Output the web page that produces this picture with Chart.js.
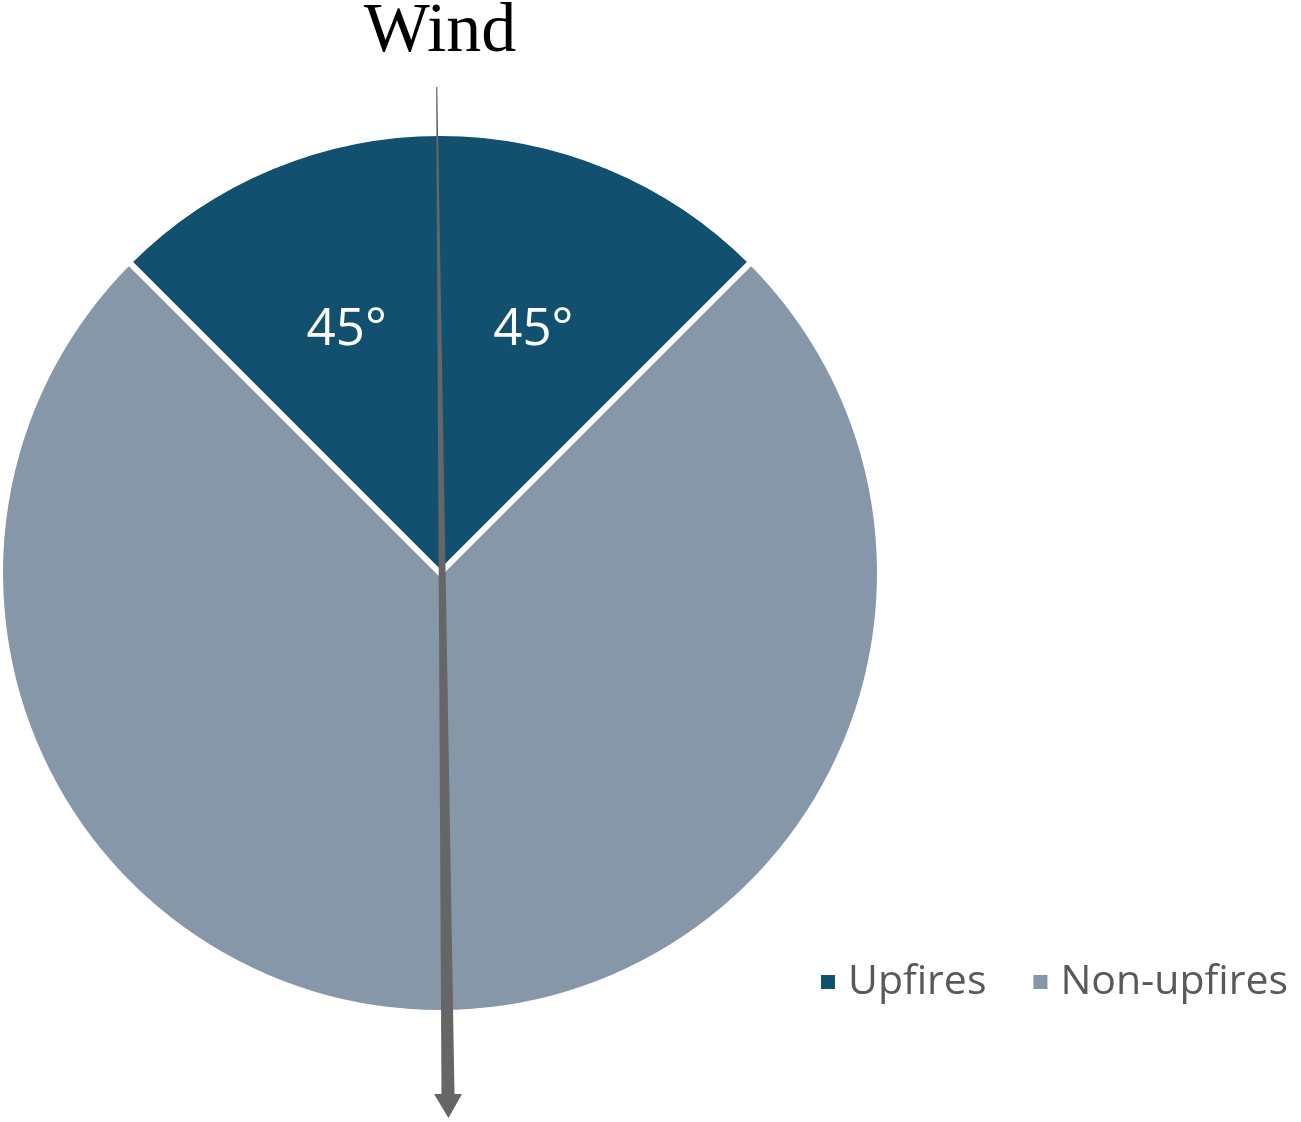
<!DOCTYPE html>
<html>
<head>
<meta charset="utf-8">
<script src="https://cdn.jsdelivr.net/npm/chart.js@4.4.1/dist/chart.umd.min.js"></script>
<style>
    html, body { margin: 0; padding: 0; background: #fff; }
    #wrap { width: 1301px; height: 1122px; }
</style>
</head>
<body>
<div id="wrap"><canvas id="windChart" width="1301" height="1122"></canvas></div>
<script>
// Data
const categories = ['Upfires', 'Non-upfires'];
const categoryColors = ['#11506e', '#8597a9'];
const sectorCategories = ['Upfires', 'Upfires', 'Non-upfires', 'Non-upfires'];
const sectorDegrees = [45, 45, 135, 135];
const sectorLabels = ['45°', '45°', '', ''];
const chartTitle = 'Wind';

const sectorColors = sectorCategories.map(c => categoryColors[categories.indexOf(c)]);

// Separators, angle labels and the wind arrow
const windPlugin = {
    id: 'windPlugin',
    afterDatasetsDraw(chart) {
        const ctx = chart.ctx;
        const arcs = chart.getDatasetMeta(0).data;
        if (!arcs.length) return;
        const cx = arcs[0].x;
        const cy = arcs[0].y;
        const R = arcs[0].outerRadius;

        // white line where the category changes
        const bounds = [];
        arcs.forEach((arc, i) => {
            const prev = (i - 1 + arcs.length) % arcs.length;
            if (sectorCategories[i] !== sectorCategories[prev]) bounds.push(arc.startAngle);
        });
        ctx.save();
        ctx.strokeStyle = '#ffffff';
        ctx.lineWidth = 6;
        ctx.lineJoin = 'miter';
        ctx.beginPath();
        if (bounds.length === 2) {
            ctx.moveTo(cx + Math.cos(bounds[0]) * (R + 2), cy + Math.sin(bounds[0]) * (R + 2));
            ctx.lineTo(cx, cy);
            ctx.lineTo(cx + Math.cos(bounds[1]) * (R + 2), cy + Math.sin(bounds[1]) * (R + 2));
        } else {
            bounds.forEach(a => {
                ctx.moveTo(cx, cy);
                ctx.lineTo(cx + Math.cos(a) * (R + 2), cy + Math.sin(a) * (R + 2));
            });
        }
        ctx.stroke();

        // angle labels
        ctx.fillStyle = '#ffffff';
        ctx.font = '51px "Open Sans", sans-serif';
        ctx.textAlign = 'center';
        ctx.textBaseline = 'middle';
        arcs.forEach((arc, i) => {
            if (!sectorLabels[i]) return;
            const mid = (arc.startAngle + arc.endAngle) / 2;
            const r = R * 0.6;
            ctx.fillText(sectorLabels[i], cx + Math.cos(mid) * r * 0.93, cy + Math.sin(mid) * r);
        });

        // wind arrow (tapered shaft)
        const x0 = cx - 3.3, y0 = cy - 486;
        const x1 = cx + 8, y1 = cy + 521;
        const xt = cx + 8.5, yt = cy + 545;
        ctx.fillStyle = '#666666';
        ctx.beginPath();
        ctx.moveTo(x0 - 0.6, y0);
        ctx.lineTo(x0 + 0.6, y0);
        ctx.lineTo(x1 + 6.5, y1);
        ctx.lineTo(x1 + 14, y1);
        ctx.lineTo(xt, yt);
        ctx.lineTo(x1 - 14, y1);
        ctx.lineTo(x1 - 6.5, y1);
        ctx.closePath();
        ctx.fill();
        ctx.restore();
    },
    afterDraw(chart) {
        // legend
        const ctx = chart.ctx;
        ctx.save();
        ctx.font = '41px "Open Sans", sans-serif';
        ctx.textBaseline = 'middle';
        ctx.textAlign = 'left';
        let x = 821;
        const y = 982;
        categories.forEach((c, i) => {
            ctx.fillStyle = categoryColors[i];
            ctx.fillRect(x, y - 7, 14, 14);
            ctx.fillStyle = '#595959';
            ctx.fillText(c, x + 27, y);
            x += 27 + ctx.measureText(c).width + 47;
        });
        ctx.restore();
    }
};

const ctx = document.getElementById('windChart').getContext('2d');
const myChart = new Chart(ctx, {
    type: 'pie',
    data: {
        labels: sectorCategories,
        datasets: [{
            data: sectorDegrees,
            backgroundColor: sectorColors,
            borderWidth: 0
        }]
    },
    options: {
        responsive: false,
        animation: false,
        rotation: -45,
        layout: {
            padding: { top: 0, left: 3, right: 424, bottom: 112 }
        },
        plugins: {
            legend: { display: false },
            tooltip: { enabled: false },
            title: {
                display: true,
                text: chartTitle,
                color: '#000000',
                font: { family: '"Liberation Serif", "Times New Roman", serif', size: 70, weight: 'normal', lineHeight: 1 },
                padding: { top: -2, bottom: 68 }
            }
        }
    },
    plugins: [windPlugin]
});
</script>
</body>
</html>
